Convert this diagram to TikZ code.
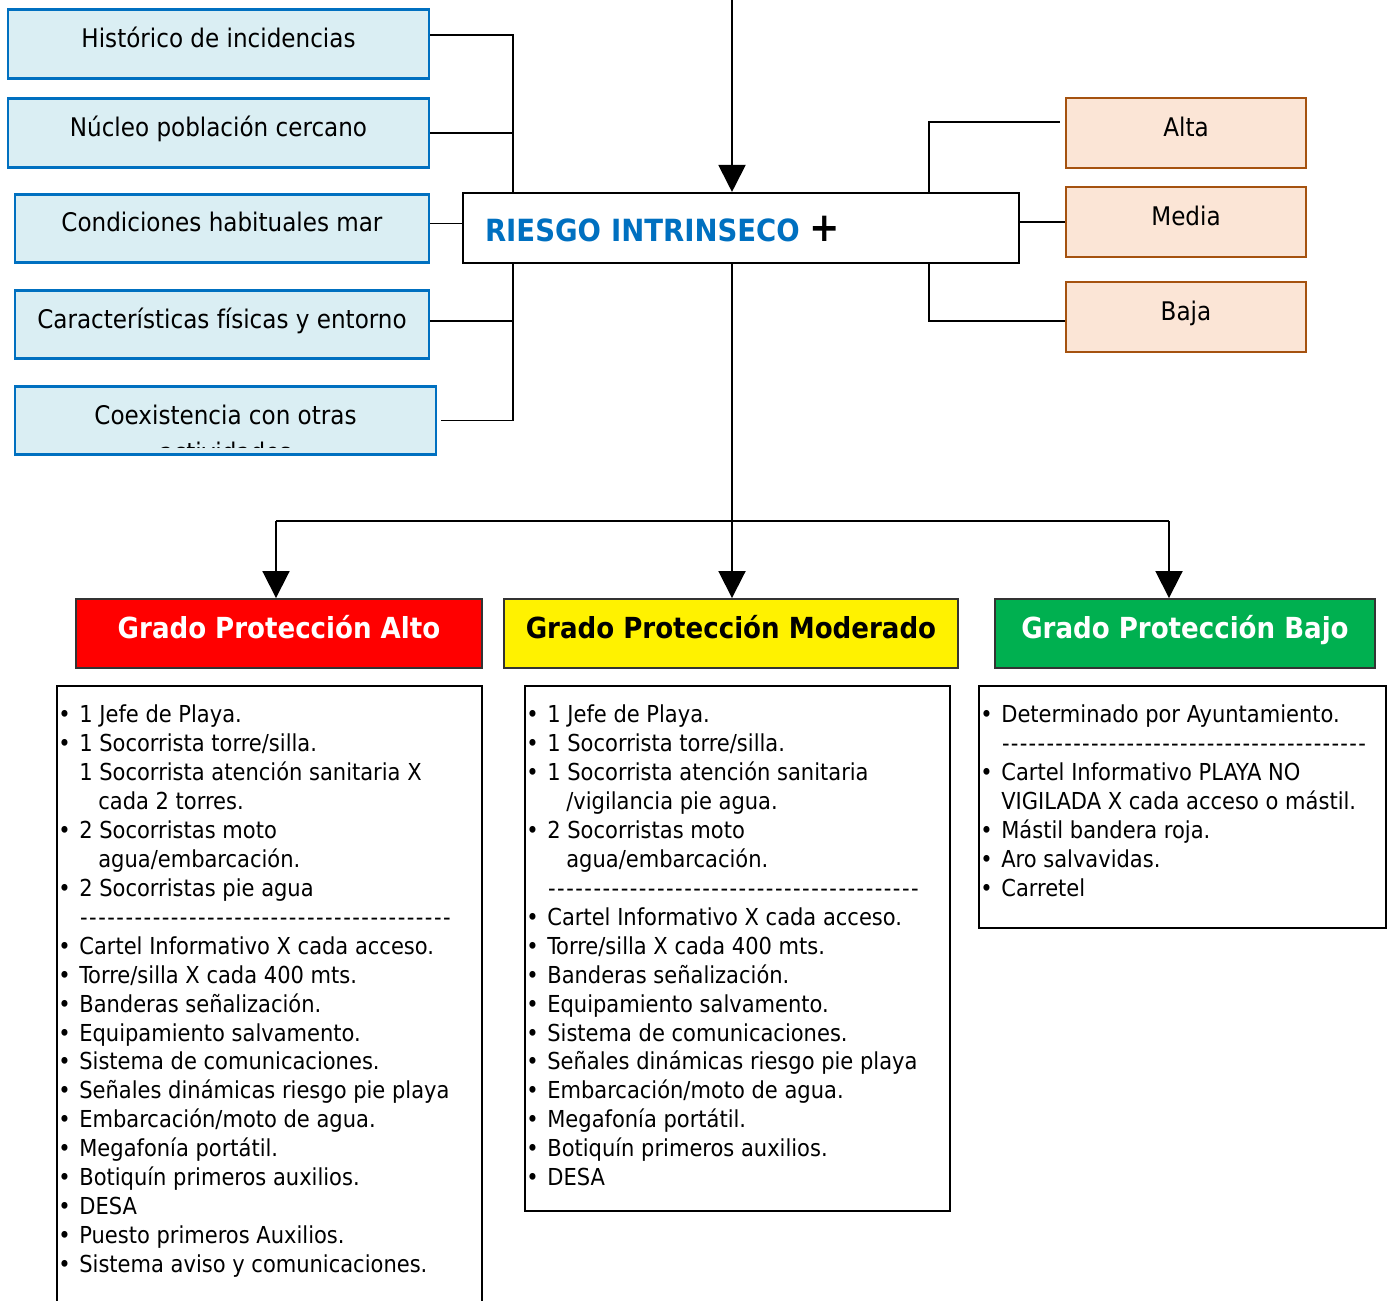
\documentclass[tikz,border=0pt]{standalone}
\usepackage{fontspec}
\setmainfont{DejaVu Sans Condensed}
\usetikzlibrary{positioning,arrows.meta}

\definecolor{factfill}{HTML}{DAEEF3}
\definecolor{factedge}{HTML}{0070C0}
\definecolor{levfill}{HTML}{FBE5D6}
\definecolor{levedge}{HTML}{A5520F}
\definecolor{riskblue}{HTML}{0070C0}
\definecolor{gradgreen}{HTML}{00B050}

\newcommand{\bl}{\makebox[0.42cm][l]{\textbullet}}
\newcommand{\ind}{\hspace*{0.42cm}}
\newcommand{\indd}{\hspace*{0.8cm}}
\newcommand{\dashrow}[1]{\leavevmode\xleaders\hbox to 0.178cm{\hss-\hss}\hskip#1\kern0pt\relax}

\tikzset{
  factor/.style={draw=factedge, fill=factfill, line width=1.6pt,
    minimum height=1.37cm, text height=0.4cm, text depth=0.26cm,
    font=\fontsize{14.6pt}{16pt}\selectfont},
  level/.style={draw=levedge, fill=levfill, line width=1.5pt,
    minimum width=4.8cm, minimum height=1.4cm, text height=0.4cm, text depth=0.26cm,
    font=\fontsize{14.6pt}{16pt}\selectfont},
  grade/.style={draw=black!80, line width=1.1pt, minimum height=1.38cm,
    text height=0.42cm, text depth=0.24cm, font=\bfseries\fontsize{16.5pt}{18pt}\selectfont},
  listbox/.style={draw=black, line width=1.4pt},
  listtext/.style={anchor=north west, inner sep=0pt, align=left,
    font=\fontsize{13.3pt}{16.5pt}\selectfont},
  link/.style={line width=1.1pt},
  arr/.style={line width=1.1pt, -{Triangle[width=0.54cm,length=0.54cm]}}
}

\begin{document}
\begin{tikzpicture}[x=0.02cm, y=-0.02cm]
\useasboundingbox (0,0) rectangle (1387,1301);

% factores del riesgo
\node[factor, minimum width=8.42cm] (hist) at (218.5,44) {Histórico de incidencias};
\node[factor, minimum width=8.42cm] (nucleo) at (218.5,133) {Núcleo población cercano};
\node[factor, minimum width=8.28cm] (cond) at (222,228.5) {Condiciones habituales mar};
\node[factor, minimum width=8.28cm] (carac) at (222,324.5) {Características físicas y entorno};
\node[factor, minimum width=8.42cm] (coex) at (225.5,420.5) {Coexistencia con otras};
\begin{scope}
  \clip ([xshift=0.05cm,yshift=0.18cm]coex.south west) rectangle ([xshift=-0.05cm]coex.north east);
  \node[inner sep=0pt, anchor=north, font=\fontsize{14.6pt}{16pt}\selectfont] (coexmore) at (225.5,441.5) {actividades};
\end{scope}

% riesgo
\node[draw, line width=1.2pt, fill=white, minimum height=1.4cm, text width=10.24cm,
  inner xsep=0.44cm, align=left, text height=0.62cm, text depth=0.06cm,
  font=\bfseries\fontsize{17.4pt}{19pt}\selectfont] (riesgo) at (741,228)
  {\textcolor{riskblue}{RIESGO INTRINSECO} {\fontsize{23pt}{23pt}\selectfont+}};

% niveles
\node[level] (alta) at (1186,133) {Alta};
\node[level] (media) at (1186,222) {Media};
\node[level] (baja) at (1186,317) {Baja};

% grados
\node[grade, fill=red, text=white, minimum width=8.12cm] (alto) at (279,633.5) {Grado Protección Alto};
\node[grade, fill=yellow, minimum width=9.08cm] (moderado) at (731,633.5) {Grado Protección Moderado};
\node[grade, fill=gradgreen, text=white, minimum width=7.6cm] (bajo) at (1185,633.5) {Grado Protección Bajo};

% listas
\draw[listbox] (57,1330) |- (482,686) -- (482,1330);
\draw[listbox] (525,686) rectangle (950,1211);
\draw[listbox] (979,686) rectangle (1386,928);

\node[listtext] (altolist) at (58,704) {%
\bl 1 Jefe de Playa.\\
\bl 1 Socorrista torre/silla.\\
\ind 1 Socorrista atención sanitaria X\\
\indd cada 2 torres.\\
\bl 2 Socorristas moto\\
\indd agua/embarcación.\\
\bl 2 Socorristas pie agua\\
\ind\dashrow{7.44cm}\\
\bl Cartel Informativo X cada acceso.\\
\bl Torre/silla X cada 400 mts.\\
\bl Banderas señalización.\\
\bl Equipamiento salvamento.\\
\bl Sistema de comunicaciones.\\
\bl Señales dinámicas riesgo pie playa\\
\bl Embarcación/moto de agua.\\
\bl Megafonía portátil.\\
\bl Botiquín primeros auxilios.\\
\bl DESA\\
\bl Puesto primeros Auxilios.\\
\bl Sistema aviso y comunicaciones.};

\node[listtext] (modlist) at (526,704) {%
\bl 1 Jefe de Playa.\\
\bl 1 Socorrista torre/silla.\\
\bl 1 Socorrista atención sanitaria\\
\indd /vigilancia pie agua.\\
\bl 2 Socorristas moto\\
\indd agua/embarcación.\\
\ind\dashrow{7.44cm}\\
\bl Cartel Informativo X cada acceso.\\
\bl Torre/silla X cada 400 mts.\\
\bl Banderas señalización.\\
\bl Equipamiento salvamento.\\
\bl Sistema de comunicaciones.\\
\bl Señales dinámicas riesgo pie playa\\
\bl Embarcación/moto de agua.\\
\bl Megafonía portátil.\\
\bl Botiquín primeros auxilios.\\
\bl DESA};

\node[listtext] (bajolist) at (980,704) {%
\bl Determinado por Ayuntamiento.\\
\ind\dashrow{7.3cm}\\
\bl Cartel Informativo PLAYA NO\\
\ind VIGILADA X cada acceso o mástil.\\
\bl Mástil bandera roja.\\
\bl Aro salvavidas.\\
\bl Carretel};

% conexiones factores
\draw[link] ([yshift=0.18cm]hist.east) -| ([xshift=1.02cm]riesgo.north west);
\draw[link] (nucleo.east) -| ([xshift=1.02cm]riesgo.north west);
\draw[link] ([yshift=0.1cm]cond.east) -- ([yshift=0.1cm]cond.east -| riesgo.west);
\draw[link] ([yshift=0.07cm]carac.east) -| ([xshift=1.02cm]riesgo.south west);
\draw[link] ([xshift=0.08cm]coex.east) -| ([xshift=1.02cm]riesgo.south west);

% conexiones niveles
\draw[link] ([xshift=-1.82cm]riesgo.north east) |- ([xshift=-0.1cm,yshift=0.22cm]alta.west);
\draw[link] (media.west) -- (media.west -| riesgo.east);
\draw[link] ([xshift=-1.82cm]riesgo.south east) |- ([yshift=-0.08cm]baja.west);

% flechas
\coordinate (entrada) at (732,0);
\coordinate (reparto) at (732,521);
\coordinate (repizq) at (276,521);
\coordinate (repder) at (1169,521);
\draw[arr] (entrada) -- (entrada |- riesgo.north);
\draw[link] (reparto |- riesgo.south) -- (reparto);
\draw[link] (repizq) -- (repder);
\draw[arr] (reparto) -- (reparto |- moderado.north);
\draw[arr] (repizq) -- (repizq |- alto.north);
\draw[arr] (repder) -- (repder |- bajo.north);
\end{tikzpicture}
\end{document}
